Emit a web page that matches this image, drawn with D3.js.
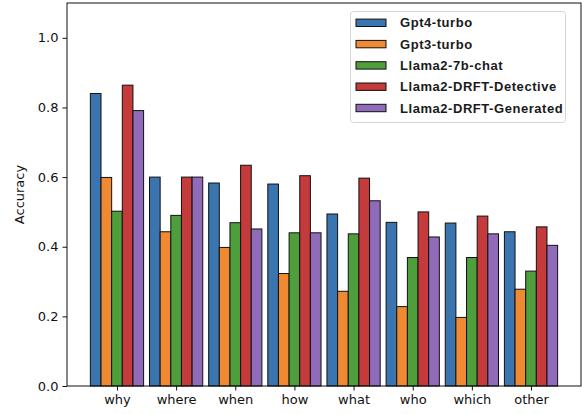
<!DOCTYPE html>
<html><head><meta charset="utf-8">
<script src="https://cdn.jsdelivr.net/npm/d3@7/dist/d3.min.js"></script>
<style>body{margin:0;background:#fff}svg{display:block}</style>
</head><body>
<svg id="c" width="582" height="414"></svg>
<script>
const categories = ["why","where","when","how","what","who","which","other"];
const seriesNames = ["Gpt4-turbo","Gpt3-turbo","Llama2-7b-chat","Llama2-DRFT-Detective","Llama2-DRFT-Generated"];
const gpt4 = [0.840,0.600,0.583,0.580,0.494,0.470,0.468,0.443];
const gpt3 = [0.599,0.443,0.398,0.323,0.272,0.228,0.197,0.278];
const llama7b = [0.502,0.490,0.469,0.440,0.437,0.369,0.369,0.330];
const detective = [0.864,0.600,0.634,0.604,0.597,0.500,0.488,0.457];
const generated = [0.791,0.600,0.451,0.440,0.532,0.428,0.437,0.404];
const yTicks = [0.0,0.2,0.4,0.6,0.8,1.0];
const colors = ["#3a75b0","#ef8a33","#4f9e3c","#c53a3a","#8f6bb9"];
const series = [gpt4,gpt3,llama7b,detective,generated];

const svg = d3.select("#c");
const L=67,R=581,T=3,B=386;
const x = d3.scaleLinear().domain([-0.845,7.845]).range([L,R]);
const y = d3.scaleLinear().domain([0,1.1]).range([B,T]);
const bw = 0.18;

series.forEach((vals,j)=>{
  svg.append("g").selectAll("rect").data(vals).join("rect")
    .attr("x",(d,i)=>x(i+(j-2)*bw-bw/2))
    .attr("width",x(bw)-x(0))
    .attr("y",d=>y(d))
    .attr("height",d=>y(0)-y(d))
    .attr("fill",colors[j])
    .attr("stroke","#111").attr("stroke-width",1);
});

const font = "DejaVu Sans";
const xa = svg.append("g").attr("transform",`translate(0,${B})`)
  .call(d3.axisBottom(x).tickValues(d3.range(categories.length)).tickFormat(i=>categories[i]).tickSize(4.5).tickPadding(4));
const ya = svg.append("g").attr("transform",`translate(${L},0)`)
  .call(d3.axisLeft(y).tickValues(yTicks).tickFormat(d3.format(".1f")).tickSize(4.5).tickPadding(4));
[xa,ya].forEach(a=>{
  a.select(".domain").remove();
  a.selectAll("text").attr("font-family",font).attr("font-size",13).attr("fill","#111");
  a.selectAll("line").attr("stroke","#111");
});
svg.append("rect").attr("x",L).attr("y",T).attr("width",R-L).attr("height",B-T)
  .attr("fill","none").attr("stroke","#111").attr("stroke-width",1);

svg.append("text").attr("transform",`translate(24,${(T+B)/2}) rotate(-90)`)
  .attr("text-anchor","middle").attr("font-family",font).attr("font-size",13).attr("fill","#111").text("Accuracy");

// legend
const lg = svg.append("g");
lg.append("rect").attr("x",350.5).attr("y",11.5).attr("width",215).attr("height",111).attr("rx",3)
  .attr("fill","#fff").attr("fill-opacity",0.8).attr("stroke","#d5d5d5");
seriesNames.forEach((n,j)=>{
  const cy = 22.8 + j*21.3;
  lg.append("rect").attr("x",356).attr("y",cy-3.7).attr("width",30).attr("height",7.4)
    .attr("fill",colors[j]).attr("stroke","#111").attr("stroke-width",1);
  lg.append("text").attr("x",400).attr("y",cy+4.6).attr("font-family","Liberation Sans").attr("font-weight","bold")
    .attr("font-size",13).attr("letter-spacing",0.55).attr("fill","#1a1a1a").text(n);
});
</script>
</body></html>
